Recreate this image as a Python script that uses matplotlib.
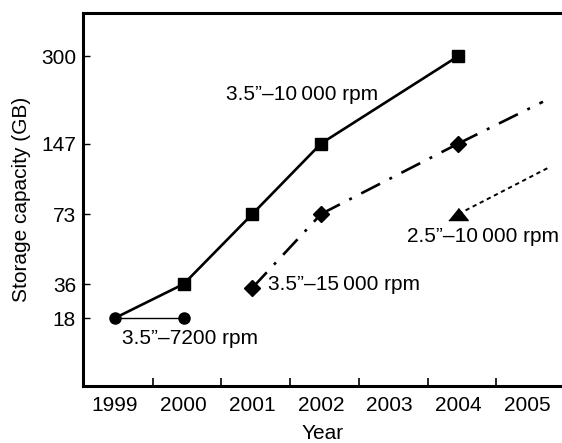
import numpy as np
import matplotlib
matplotlib.use('Agg')
import matplotlib.pyplot as plt

plt.rcParams['font.family'] = ['Liberation Sans', 'DejaVu Sans']

# data
years_7200 = [1999, 2000]
cap_7200 = [18, 18]

years_10k = [1999, 2000, 2001, 2002, 2004]
cap_10k = [18, 36, 73, 147, 300]

years_15k = [2001, 2002, 2004, 2005.23]
cap_15k = [34, 73, 147, 220]

years_25 = [2004, 2005.32]
cap_25 = [73, 122]

year_ticks = [1999, 2000, 2001, 2002, 2003, 2004, 2005]
cap_ticks = [18, 36, 73, 147, 300]

# the y axis is neither linear nor log: spacing
scale_vals = [-1e5, 18, 36, 73, 147, 300, 1e5]
scale_pos = [68 + (-1e5 - 18) * 34 / 18, 68, 102, 172, 242.5, 330,
             330 + (1e5 - 300) * 87 / 153]


def fwd(v):
    return np.interp(v, scale_vals, scale_pos)


def inv(p):
    return np.interp(p, scale_pos, scale_vals)


fig = plt.figure(figsize=(5.62, 4.43), dpi=100)
ax = fig.add_axes([83 / 562, 57 / 443, 479 / 562, 373 / 443])
ax.set_yscale('function', functions=(fwd, inv))

# 7200 rpm
ax.plot(years_7200, cap_7200, color='black', lw=1.0, marker='o', ms=8,
        zorder=3)
# 3.5" 10000 rpm
ax.plot(years_10k, cap_10k, color='black', lw=1.9, marker='s', ms=8.6,
        markevery=[1, 2, 3, 4], zorder=3)
# 3.5" 15000 rpm, dash pattern restarts at each point
for i in range(len(years_15k) - 1):
    ax.plot(years_15k[i:i + 2], cap_15k[i:i + 2], color='black', lw=1.9,
            dashes=(8, 4, 1.1, 4), zorder=2)
ax.plot(years_15k[:3], cap_15k[:3], ls='none', marker='D', ms=8,
        color='black', zorder=3)
# 2.5" 10000 rpm
ax.plot(years_25, cap_25, color='black', lw=1.4, dashes=(2.2, 1.9), zorder=2)
tri = [(-1, -0.62), (1, -0.62), (0, 0.62)]
ax.plot(years_25[:1], cap_25[:1], ls='none', marker=tri, ms=14,
        color='black', zorder=3)

fs = 15
ax.text((226 - 83) / 479, (386 - 100) / 373, '3.5\u201d\u201310\u2009000 rpm',
        transform=ax.transAxes, fontsize=fs, va='baseline')
ax.text((268 - 83) / 479, (386 - 290) / 373, '3.5\u201d\u201315\u2009000 rpm',
        transform=ax.transAxes, fontsize=fs, va='baseline')
ax.text((407 - 83) / 479, (386 - 242) / 373, '2.5\u201d\u201310\u2009000 rpm',
        transform=ax.transAxes, fontsize=fs, va='baseline')
ax.text((122 - 83) / 479, (386 - 344) / 373, '3.5\u201d\u20137200 rpm',
        transform=ax.transAxes, fontsize=fs, va='baseline')

ax.set_xlim(1998.534, 2005.507)
ax.set_ylim(inv(0), inv(373))

ax.set_xticks(year_ticks)
ax.set_xticklabels([str(y) for y in year_ticks])
ax.set_xticks([y + 0.55 for y in year_ticks[:-1]], minor=True)
ax.tick_params(axis='x', which='major', length=0, pad=7, labelsize=fs)
ax.tick_params(axis='x', which='minor', direction='in', length=6, width=1.2)

ax.set_yticks(cap_ticks)
ax.set_yticklabels([str(c) for c in cap_ticks])
ax.yaxis.set_minor_locator(matplotlib.ticker.NullLocator())
ax.tick_params(axis='y', which='major', direction='in', length=5, width=1,
               pad=5, labelsize=fs)

for s in ['left', 'bottom', 'top']:
    ax.spines[s].set_linewidth(2.2)
ax.spines['right'].set_visible(False)

ax.set_xlabel('Year', fontsize=fs, labelpad=7)
ax.set_ylabel('Storage capacity (GB)', fontsize=fs, labelpad=7)

fig.savefig('out.png', dpi=100)
